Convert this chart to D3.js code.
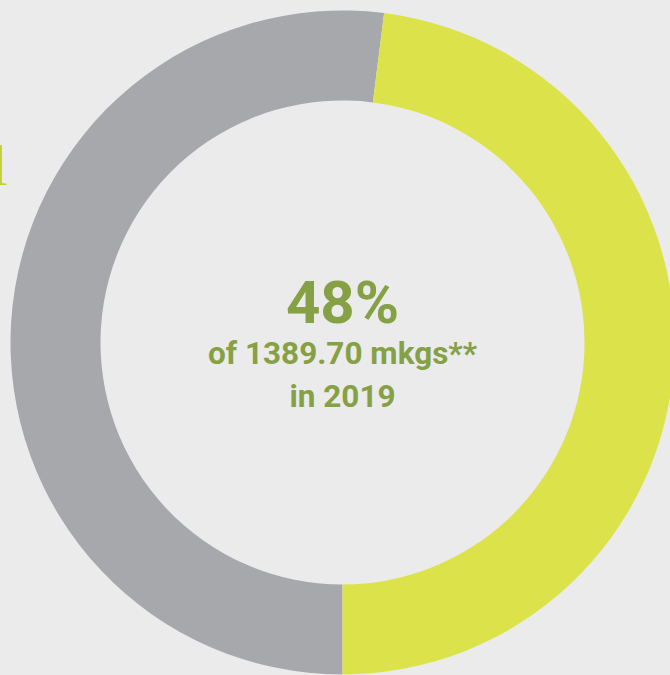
<!DOCTYPE html>
<html>
<head>
<meta charset="utf-8">
<script src="https://cdn.jsdelivr.net/npm/d3@7"></script>
<style>
  html, body { margin: 0; padding: 0; background: #ebebeb; overflow: hidden; }
  svg { display: block; }
</style>
</head>
<body>
<svg id="chart"></svg>
<script>
// share of total in 2019
const categories = ["Other", "Share"];
const values = [52, 48];
const colors = ["#a7a8ac", "#dce34a"];
const centerLines = ["48%", "of 1389.70 mkgs**", "in 2019"];

const width = 670, height = 675;
const cx = 342.5, cy = 342.5;
const outerR = 332, innerR = 242;

const svg = d3.select("#chart")
    .attr("width", width)
    .attr("height", height);

svg.append("rect")
    .attr("width", width)
    .attr("height", height)
    .attr("fill", "#ebebeb");

// cut-off letter at left edge
svg.append("text")
    .attr("x", -8.4)
    .attr("y", 185)
    .attr("font-family", "Liberation Serif, serif")
    .attr("font-size", 58)
    .attr("fill", "#c5cf3a")
    .text("l");

const pie = d3.pie()
    .sort(null)
    .value(d => d)
    .startAngle(Math.PI)
    .endAngle(3 * Math.PI);

const arc = d3.arc()
    .innerRadius(innerR)
    .outerRadius(outerR);

const g = svg.append("g")
    .attr("transform", `translate(${cx},${cy})`);

g.selectAll("path")
    .data(pie(values))
    .join("path")
    .attr("d", arc)
    .attr("fill", (d, i) => colors[i]);

const label = g.append("g")
    .attr("font-family", "Roboto, sans-serif")
    .attr("font-weight", "bold")
    .attr("fill", "#86a045")
    .attr("text-anchor", "middle");

label.append("text")
    .attr("x", 0)
    .attr("y", 323 - cy)
    .attr("font-size", 60)
    .text(centerLines[0]);

label.append("text")
    .attr("x", 0)
    .attr("y", 364 - cy)
    .attr("font-size", 31.5)
    .text(centerLines[1]);

label.append("text")
    .attr("x", 0)
    .attr("y", 407 - cy)
    .attr("font-size", 31.5)
    .text(centerLines[2]);
</script>
</body>
</html>
